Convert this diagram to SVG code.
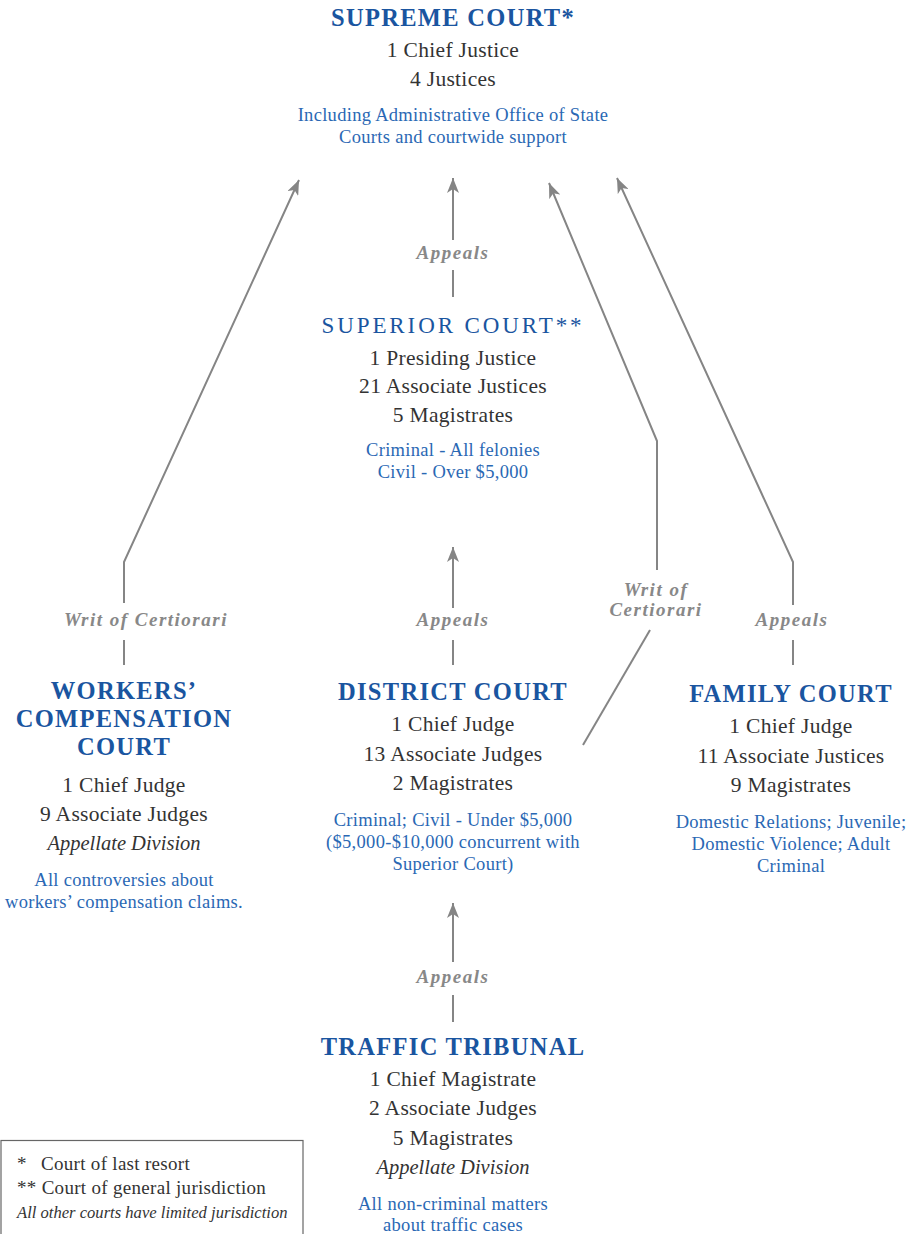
<svg xmlns="http://www.w3.org/2000/svg" width="913" height="1234" viewBox="0 0 913 1234" font-family="'Liberation Serif', 'Times New Roman', Times, 'DejaVu Serif', serif">
<style>
text{font-family:'Liberation Serif','Times New Roman',Times,'DejaVu Serif',serif;text-anchor:middle}
.h{font-size:24.5px;font-weight:900;fill:#1a55a0;letter-spacing:1.3px}
.hs{font-size:23px;fill:#1a55a0;letter-spacing:2.9px}
.b{font-size:21.5px;fill:#333;letter-spacing:0.3px}
.i{font-size:20.5px;fill:#333;font-style:italic}
.d{font-size:18.5px;fill:#2a68b4;letter-spacing:0.3px}
.l{font-size:19px;fill:#888;font-style:italic;font-weight:bold;letter-spacing:1.5px}
.g{font-size:19px;fill:#333;text-anchor:start;letter-spacing:0.3px}
.gi{font-size:16.6px;fill:#333;text-anchor:start;font-style:italic}
.c{fill:none;stroke:#858585;stroke-width:2}
</style>
<defs>
<marker id="ah" markerUnits="userSpaceOnUse" markerWidth="16" markerHeight="12" refX="15" refY="6" orient="auto">
<path d="M0,0 L15,6 L0,12 L4,6 z" fill="#858585"/>
</marker>
</defs>
<g id="connectors">
<line class="c" x1="124" y1="665" x2="124" y2="640"/>
<polyline class="c" points="124,603 124,562 299,180" marker-end="url(#ah)"/>
<line class="c" x1="453" y1="297" x2="453" y2="270"/>
<line class="c" x1="453" y1="240" x2="453" y2="178" marker-end="url(#ah)"/>
<line class="c" x1="583" y1="745" x2="650" y2="630"/>
<polyline class="c" points="657,570 657,441 549,183" marker-end="url(#ah)"/>
<line class="c" x1="793" y1="665" x2="793" y2="640"/>
<polyline class="c" points="793,605 793,562 617,178" marker-end="url(#ah)"/>
<line class="c" x1="453" y1="665" x2="453" y2="640"/>
<line class="c" x1="453" y1="608" x2="453" y2="547" marker-end="url(#ah)"/>
<line class="c" x1="453" y1="1022" x2="453" y2="995"/>
<line class="c" x1="453" y1="962" x2="453" y2="903" marker-end="url(#ah)"/>
<text class="l" x="453" y="259">Appeals</text>
<text class="l" x="146" y="626">Writ of Certiorari</text>
<text class="l" x="453" y="626">Appeals</text>
<text class="l" x="656" y="596">Writ of</text>
<text class="l" x="656" y="616">Certiorari</text>
<text class="l" x="792" y="626">Appeals</text>
<text class="l" x="453" y="983">Appeals</text>
</g>
<g id="supreme">
<text class="h" x="453" y="26">SUPREME COURT*</text>
<text class="b" x="453" y="57">1 Chief Justice</text>
<text class="b" x="453" y="86">4 Justices</text>
<text class="d" x="453" y="121">Including Administrative Office of State</text>
<text class="d" x="453" y="143">Courts and courtwide support</text>
</g>
<g id="superior">
<text class="hs" x="453" y="333">SUPERIOR COURT**</text>
<text class="b" x="453" y="365">1 Presiding Justice</text>
<text class="b" x="453" y="393">21 Associate Justices</text>
<text class="b" x="453" y="422">5 Magistrates</text>
<text class="d" x="453" y="456">Criminal - All felonies</text>
<text class="d" x="453" y="478">Civil - Over $5,000</text>
</g>
<g id="workers">
<text class="h" x="124" y="699">WORKERS’</text>
<text class="h" x="124" y="727">COMPENSATION</text>
<text class="h" x="124" y="755">COURT</text>
<text class="b" x="124" y="792">1 Chief Judge</text>
<text class="b" x="124" y="821">9 Associate Judges</text>
<text class="i" x="124" y="850">Appellate Division</text>
<text class="d" x="124" y="886">All controversies about</text>
<text class="d" x="124" y="908">workers’ compensation claims.</text>
</g>
<g id="district">
<text class="h" x="453" y="700">DISTRICT COURT</text>
<text class="b" x="453" y="731">1 Chief Judge</text>
<text class="b" x="453" y="761">13 Associate Judges</text>
<text class="b" x="453" y="790">2 Magistrates</text>
<text class="d" x="453" y="826">Criminal; Civil - Under $5,000</text>
<text class="d" x="453" y="848">($5,000-$10,000 concurrent with</text>
<text class="d" x="453" y="870">Superior Court)</text>
</g>
<g id="family">
<text class="h" x="791" y="702">FAMILY COURT</text>
<text class="b" x="791" y="733">1 Chief Judge</text>
<text class="b" x="791" y="763">11 Associate Justices</text>
<text class="b" x="791" y="792">9 Magistrates</text>
<text class="d" x="791" y="828">Domestic Relations; Juvenile;</text>
<text class="d" x="791" y="850">Domestic Violence; Adult</text>
<text class="d" x="791" y="872">Criminal</text>
</g>
<g id="traffic">
<text class="h" x="453" y="1055">TRAFFIC TRIBUNAL</text>
<text class="b" x="453" y="1086">1 Chief Magistrate</text>
<text class="b" x="453" y="1115">2 Associate Judges</text>
<text class="b" x="453" y="1145">5 Magistrates</text>
<text class="i" x="453" y="1174">Appellate Division</text>
<text class="d" x="453" y="1210">All non-criminal matters</text>
<text class="d" x="453" y="1231">about traffic cases</text>
</g>
<g id="legend">
<rect x="1" y="1140.5" width="302" height="110" fill="none" stroke="#666" stroke-width="1.2"/>
<text class="g" x="17" y="1170">*<tspan x="41">Court of last resort</tspan></text>
<text class="g" x="17" y="1194">** Court of general jurisdiction</text>
<text class="gi" x="17" y="1218">All other courts have limited jurisdiction</text>
</g>
</svg>
